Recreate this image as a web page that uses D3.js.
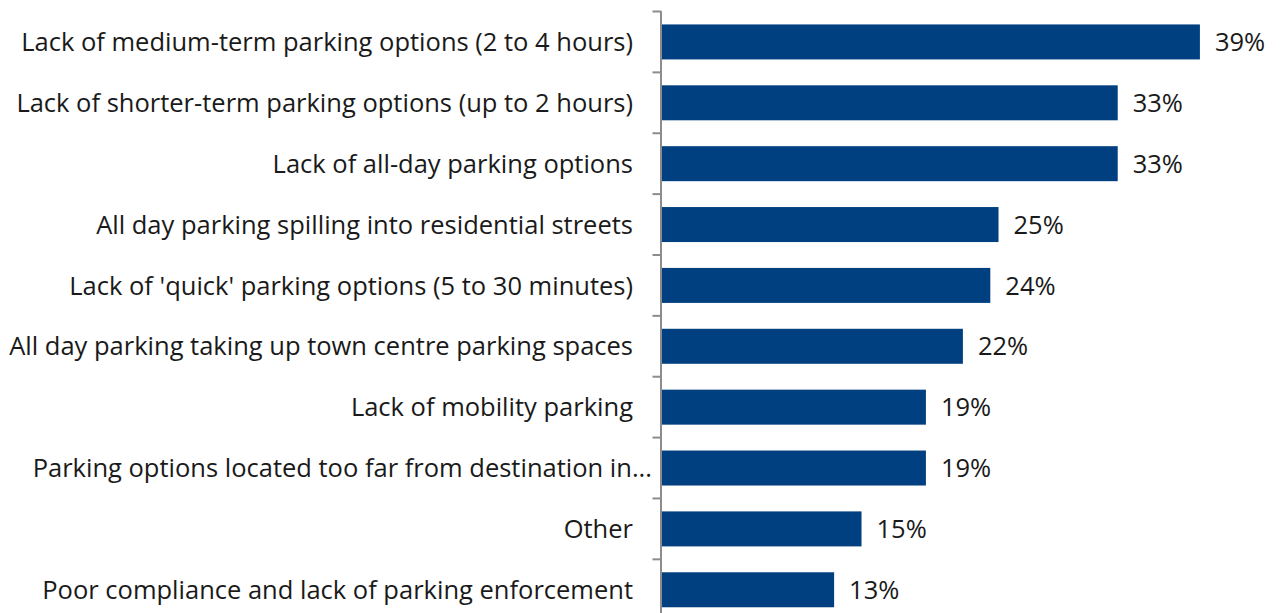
<!DOCTYPE html>
<html>
<head>
<meta charset="utf-8">
<script src="https://cdn.jsdelivr.net/npm/d3@7"></script>
<style>
  body { margin: 0; background: #fff; }
  text { font-family: "Open Sans", "Noto Sans", sans-serif; fill: #1a1a1a; }
</style>
</head>
<body>
<svg id="chart" width="1284" height="613"></svg>
<script>

var categories = [
  "Lack of medium-term parking options (2 to 4 hours)",
  "Lack of shorter-term parking options (up to 2 hours)",
  "Lack of all-day parking options",
  "All day parking spilling into residential streets",
  "Lack of 'quick' parking options (5 to 30 minutes)",
  "All day parking taking up town centre parking spaces",
  "Lack of mobility parking",
  "Parking options located too far from destination in...",
  "Other",
  "Poor compliance and lack of parking enforcement"
];
var values = [39.3, 33.3, 33.3, 24.6, 24.0, 22.0, 19.3, 19.3, 14.6, 12.6];
var valueLabels = ["39%", "33%", "33%", "25%", "24%", "22%", "19%", "19%", "15%", "13%"];

var svg = d3.select('#chart');
var x0 = 661.5, plotTop = 11.5, step = 60.87;

var x = d3.scaleLinear().domain([0, 40]).range([x0, x0 + 548]);
var y = d3.scaleBand()
  .domain(d3.range(categories.length))
  .range([plotTop, plotTop + step * categories.length])
  .paddingInner(0.425)
  .paddingOuter(0.2125);

// category axis with ticks between bars
var axisG = svg.append('g');
axisG.append('line')
  .attr('x1', x0 - 0.5).attr('x2', x0 - 0.5)
  .attr('y1', plotTop).attr('y2', 613)
  .attr('stroke', '#8c8c8c').attr('stroke-width', 2);
d3.range(categories.length + 1).forEach(function(i) {
  var ty = plotTop + i * step;
  axisG.append('line')
    .attr('x1', x0 - 9).attr('x2', x0)
    .attr('y1', ty).attr('y2', ty)
    .attr('stroke', '#8c8c8c').attr('stroke-width', 2);
});

svg.selectAll('rect.bar')
  .data(values)
  .enter().append('rect')
  .attr('class', 'bar')
  .attr('x', x(0) + 0.5)
  .attr('y', function(d, i) { return y(i); })
  .attr('width', function(d) { return x(d) - x(0) - 0.5; })
  .attr('height', y.bandwidth())
  .attr('fill', '#004080');

svg.selectAll('text.cat')
  .data(categories)
  .enter().append('text')
  .attr('class', 'cat')
  .attr('x', function(d, i) { return i == 7 ? 652 : 633; })
  .attr('y', function(d, i) { return y(i) + y.bandwidth() / 2; })
  .attr('dy', '0.36em')
  .attr('text-anchor', 'end')
  .attr('font-size', 25.5)
  .text(function(d) { return d; });

svg.selectAll('text.val')
  .data(values)
  .enter().append('text')
  .attr('class', 'val')
  .attr('x', function(d) { return x(d) + 15; })
  .attr('y', function(d, i) { return y(i) + y.bandwidth() / 2; })
  .attr('dy', '0.36em')
  .attr('font-size', 25.5)
  .text(function(d, i) { return valueLabels[i]; });

</script>
</body>
</html>
